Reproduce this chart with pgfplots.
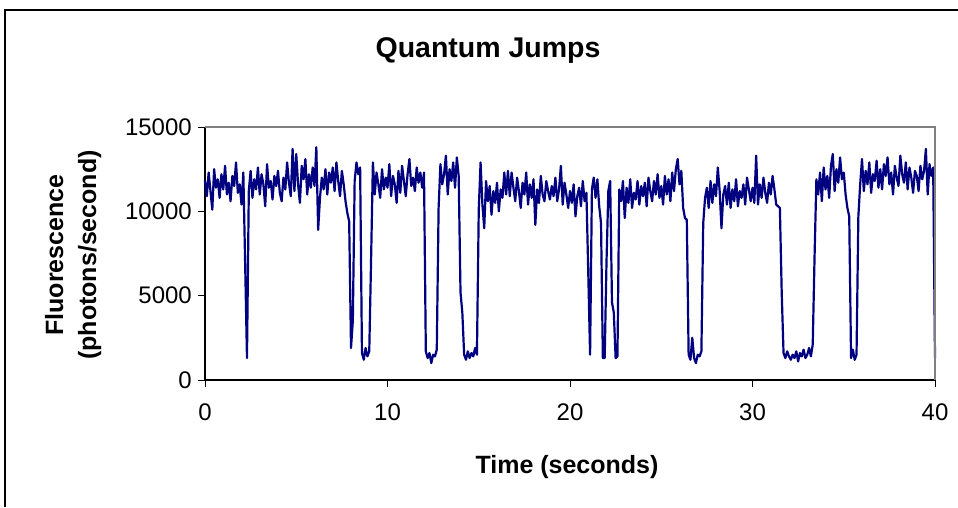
\documentclass[border=0pt]{standalone}
\usepackage{fontspec}
\setmainfont{Liberation Sans}
\usepackage{pgfplots}
\pgfplotsset{compat=1.18}
\definecolor{navyline}{HTML}{000080}
\definecolor{plotgray}{HTML}{808080}
\begin{document}
\begin{tikzpicture}[x=1pt,y=1pt]
\useasboundingbox (0,0) rectangle (958,507);
\draw[line width=1.5pt, black] (5,0) -- (5,497) -- (958,497);
\node[anchor=base, inner sep=0pt, font=\fontsize{28.5}{34}\selectfont\bfseries] at (488,449) {Quantum Jumps};
\node[anchor=base, inner sep=0pt, font=\fontsize{25}{30}\selectfont\bfseries] at (567,34) {Time (seconds)};
\node[anchor=base, inner sep=0pt, rotate=90, font=\fontsize{25}{30}\selectfont\bfseries] at (63,252) {Fluorescence};
\node[anchor=base, inner sep=0pt, rotate=90, font=\fontsize{25}{30}\selectfont\bfseries] at (96,252) {(photons/second)};
\begin{axis}[
  at={(205pt,127pt)}, anchor=south west,
  width=730pt, height=253pt, scale only axis,
  xmin=0, xmax=40, ymin=0, ymax=15000,
  xtick={0,10,20,30,40}, ytick={0,5000,10000,15000},
  scaled y ticks=false,
  /pgf/number format/assume math mode=true,
  /pgf/number format/1000 sep={},
  axis x line*=bottom, axis y line*=left,
  axis line style={black, line width=1.3pt, -},
  tick align=outside, major tick length=7pt,
  tick style={black, line width=1pt},
  ticklabel style={font=\fontsize{24}{28}\selectfont, inner sep=0pt},
  xticklabel style={anchor=north, yshift=-17pt},
  yticklabel style={anchor=east, xshift=-6pt},
  clip=false,
]
\addplot[navyline, line width=2.2pt, line join=round] table[row sep=\\, header=false, x expr=\coordindex/10, y index=0] {
11800\\10900\\12300\\11200\\10100\\12500\\11400\\11900\\10800\\12200\\
11300\\12700\\11000\\11700\\10600\\12100\\11500\\12900\\11100\\11600\\
10400\\12300\\6900\\1300\\11200\\12400\\10800\\11900\\11300\\12600\\
11000\\12200\\11600\\10300\\12800\\11400\\11800\\10700\\12100\\11500\\
12400\\11100\\10600\\12000\\11300\\12900\\11700\\10900\\13700\\11200\\
13400\\11600\\10500\\12700\\11900\\13100\\11000\\12200\\11400\\12600\\
11500\\13800\\8900\\10800\\12000\\11300\\12500\\11000\\12300\\11700\\
12600\\11200\\12900\\11800\\10900\\12400\\11600\\10600\\9900\\9400\\
1900\\3500\\11800\\12900\\12200\\12600\\1600\\1200\\1900\\1400\\
1700\\7100\\12900\\11000\\12300\\11600\\10800\\12500\\11300\\12000\\
11400\\12800\\10900\\12100\\11600\\10500\\12400\\11100\\12700\\11800\\
10900\\12200\\13100\\11500\\12000\\11200\\12600\\11700\\12300\\11400\\
12300\\1700\\1300\\1600\\1000\\1500\\1400\\1800\\10200\\12800\\
11600\\12200\\13300\\11000\\12500\\11800\\12900\\11400\\13200\\12100\\
5200\\4000\\1500\\1200\\1700\\1300\\1600\\1400\\1900\\1500\\
10100\\12900\\10400\\9000\\11800\\10600\\11500\\9800\\11200\\10500\\
11700\\10000\\11300\\10800\\12300\\11000\\12400\\10900\\12300\\11400\\
10600\\12000\\11200\\10200\\11700\\11000\\12300\\10400\\11600\\10800\\
11900\\9200\\11300\\10500\\12100\\11000\\10600\\11800\\11200\\10700\\
11500\\10900\\12000\\10600\\11300\\12700\\10400\\11700\\11000\\10200\\
11200\\10500\\11600\\9700\\10900\\11400\\10300\\11800\\10600\\11100\\
6400\\1500\\11300\\12000\\10800\\11900\\10300\\9300\\1300\\1300\\
7000\\11200\\11800\\4600\\4000\\1300\\1400\\11300\\10600\\11800\\
9600\\11400\\10500\\11900\\10200\\11100\\10700\\11800\\10400\\11500\\
10900\\11700\\10300\\12000\\11200\\10600\\11800\\11000\\12200\\10800\\
11500\\10400\\12100\\11000\\11900\\10600\\12300\\11200\\12500\\13100\\
11600\\12400\\10200\\9600\\9500\\1500\\1200\\2500\\1300\\1000\\
1500\\1400\\1700\\9300\\10800\\11400\\10200\\11800\\10500\\11600\\
10900\\12600\\11200\\9000\\11000\\11500\\10400\\11700\\10200\\11300\\
10600\\11900\\10300\\11200\\10800\\11600\\10400\\12000\\11300\\10600\\
11400\\10500\\13300\\10400\\11600\\10800\\12000\\11100\\10500\\11700\\
11000\\12100\\11300\\10400\\10300\\10200\\5200\\1600\\1300\\1700\\
1400\\1200\\1500\\1300\\1700\\1100\\1600\\1400\\1800\\1300\\
1500\\1900\\1400\\2100\\7300\\11900\\11000\\12300\\10600\\12600\\
11300\\12100\\10800\\12700\\13400\\11200\\12500\\11700\\13200\\11900\\
12300\\11000\\10200\\9700\\1300\\1800\\1200\\1500\\9700\\11600\\
13100\\11200\\12400\\11600\\12900\\11100\\12200\\11800\\13000\\11400\\
12500\\11300\\12800\\12100\\13200\\11600\\12300\\11000\\12700\\12000\\
11500\\13300\\12200\\11700\\12900\\11300\\12600\\12000\\11100\\12400\\
12100\\11200\\12700\\11900\\12400\\13700\\11000\\12800\\12100\\12600\\
1300\\
};
\draw[plotgray, line width=2pt] (rel axis cs:0,1) -- (rel axis cs:1,1) -- (rel axis cs:1,0);
\end{axis}
\end{tikzpicture}
\end{document}
